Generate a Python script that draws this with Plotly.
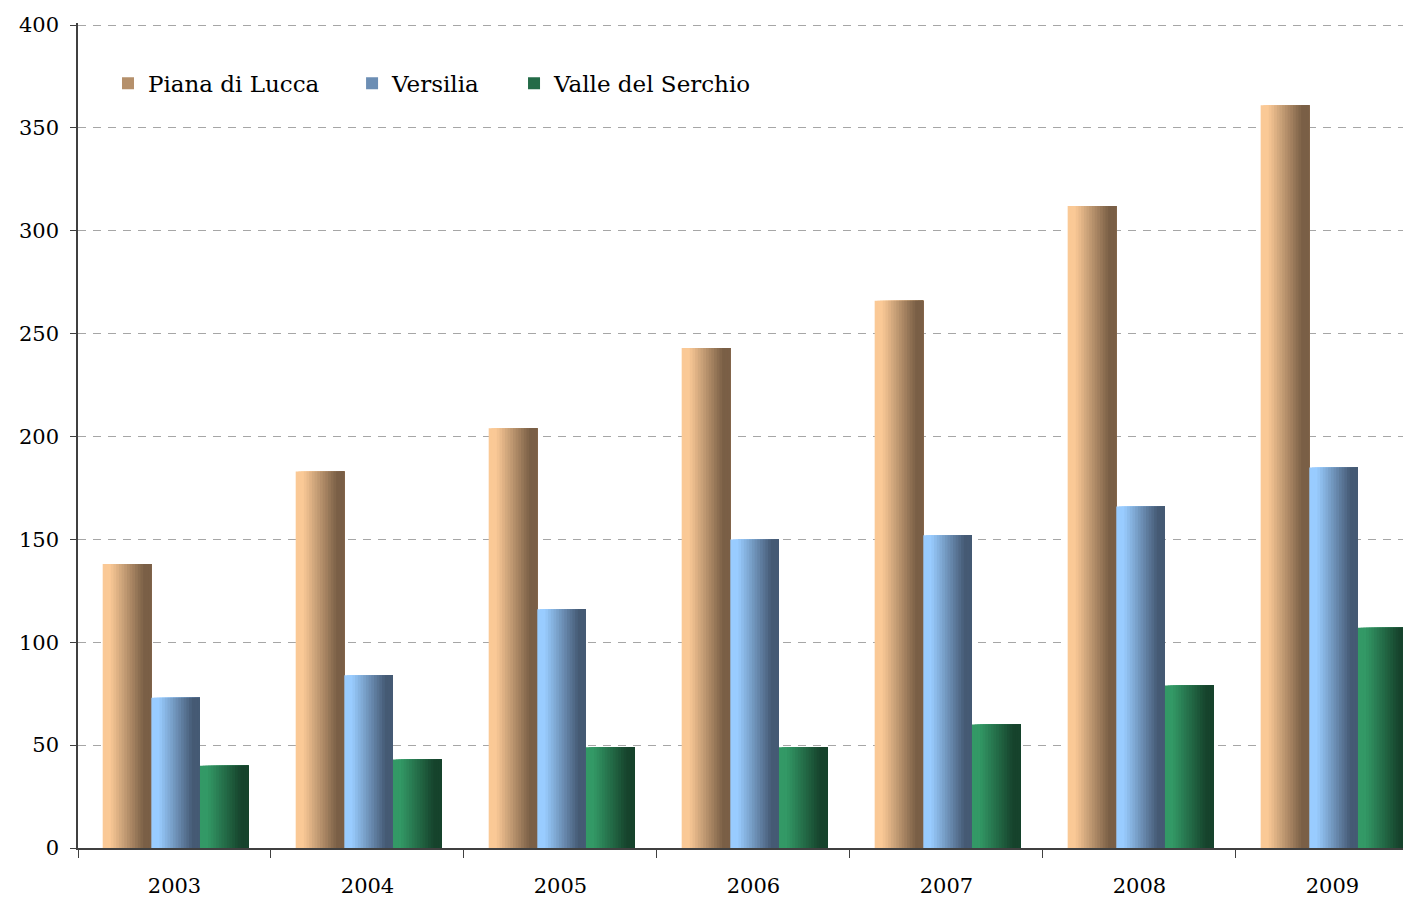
import plotly.graph_objects as go

years = ["2003", "2004", "2005", "2006", "2007", "2008", "2009"]
piana = [138, 183, 204, 243, 266, 312, 361]
versilia = [73, 84, 116, 150, 152, 166, 185]
valle = [40, 43, 49, 49, 60, 79, 107]

series = [
    ("Piana di Lucca", piana, (250, 201, 150), (122, 95, 70)),
    ("Versilia", versilia, (153, 204, 255), (69, 90, 116)),
    ("Valle del Serchio", valle, (51, 153, 102), (22, 67, 44)),
]
legend_x = [0.0225, 0.2056, 0.3271]   # one legend box per series

BAR_W = 0.252        # width of one bar, in category units
GROUP_START = -0.372  # left edge of the group relative to the category centre
N_STRIPS = 18         # vertical strips used to fake the horizontal gradient
FONT = "DejaVu Serif"


def mix(c1, c2, t):
    r, g, b = (round(a + (b_ - a) * t) for a, b_ in zip(c1, c2))
    return f"rgb({r},{g},{b})"


fig = go.Figure()
for k, (name, vals, light, dark) in enumerate(series):
    start = GROUP_START + k * BAR_W
    step = BAR_W / N_STRIPS
    leg = "legend" if k == 0 else f"legend{k + 1}"
    for s in range(N_STRIPS):
        t = (s + 0.5) / N_STRIPS
        shade = min(max((t - 0.15) / 0.7, 0), 1)
        # each strip runs to the right edge of the bar, later strips cover earlier ones
        fig.add_trace(go.Bar(
            x=years, y=vals, name=name, legendgroup=name, legend=leg,
            width=BAR_W - s * step, offset=start + s * step,
            marker=dict(color=mix(light, dark, shade), line_width=0),
            showlegend=(s == N_STRIPS // 2),
            hovertemplate=name + " %{x}: %{y}<extra></extra>"))

legends = {}
for k, lx in enumerate(legend_x):
    key = "legend" if k == 0 else f"legend{k + 1}"
    legends[key] = dict(x=lx, y=0.927, xanchor="left", yanchor="middle",
                        font=dict(family=FONT, size=23, color="black"),
                        bgcolor="rgba(0,0,0,0)")

fig.update_layout(
    width=1403, height=889,
    margin=dict(l=70, r=0, t=15, b=49),
    barmode="overlay",
    plot_bgcolor="white", paper_bgcolor="white",
    font=dict(family=FONT, size=21, color="black"),
    xaxis=dict(type="category", range=[-0.5, 6.407], showline=True, linecolor="#404040",
               linewidth=1.5, ticks="outside", tickson="boundaries", ticklen=8,
               tickcolor="#404040", showgrid=False, ticklabelstandoff=18),
    yaxis=dict(range=[0, 401], tick0=0, dtick=50, showline=True, linecolor="#404040",
               linewidth=1.5, ticks="outside", ticklen=6, tickcolor="#404040",
               showgrid=True, gridcolor="#A6A6A6", gridwidth=1, griddash="8px,7px",
               zeroline=False, ticklabelstandoff=7),
    **legends,
)

fig.write_html("out.html")
